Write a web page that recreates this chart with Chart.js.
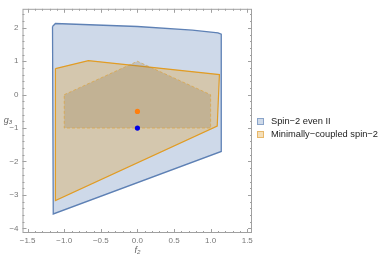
<!DOCTYPE html>
<html>
<head>
<meta charset="utf-8">
<script src="https://cdn.jsdelivr.net/npm/chart.js@4/dist/chart.umd.min.js"></script>
<style>
  body { margin: 0; background: #fff; font-family: "Liberation Sans", Arial, sans-serif; }
  #wrap { position: relative; width: 382px; height: 258px; }
  #legend { position: absolute; left: 257px; top: 115px; font-size: 9.3px; color: #222; }
  #legend div { height: 13px; line-height: 13px; white-space: nowrap; }
  #legend span.sw { display: inline-block; width: 5px; height: 5px; margin-right: 7px; vertical-align: -0.5px; }
</style>
</head>
<body>
<div id="wrap">
  <canvas id="plot"></canvas>
  <div id="legend">
    <div><span class="sw" style="background:#cfdae9;border:1px solid #8aa4c9"></span>Spin−2 even II</div>
    <div><span class="sw" style="background:#f5dfb8;border:1px solid #e8b86a"></span>Minimally−coupled spin−2</div>
  </div>
</div>
<script>
// region vertices (f2, g3)
const evenF2 = [-1.16, -1.12, 0.0, 0.75, 1.1, 1.145, 1.145, -1.15, -1.16];
const evenG3 = [2.04, 2.13, 2.04, 1.93, 1.85, 1.81, -1.70, -3.57, 2.04];

const minF2 = [-1.12, -0.67, 1.12, 1.09, -1.12, -1.12];
const minG3 = [0.78, 1.02, 0.60, -0.94, -3.17, 0.78];

const innerF2 = [-1.0, 0.0, 1.0, 1.0, -1.0, -1.0];
const innerG3 = [0.0, 1.0, 0.0, -1.0, -1.0, 0.0];

const minPoint = [0, -0.5];
const evenPoint = [0, -1];

const xTicks = [-1.5, -1.0, -0.5, 0.0, 0.5, 1.0, 1.5];
const yTicks = [-4, -3, -2, -1, 0, 1, 2];

const pts = (xs, ys) => xs.map((x, i) => ({x: x, y: ys[i]}));
const fmt = v => (v < 0 ? '−' : '') + Math.abs(v);
const fmtX = v => (v < 0 ? '−' : '') + Math.abs(v).toFixed(1);

const frame = {
  id: 'frame',
  afterDraw(chart) {
    const {ctx, chartArea: a, scales: {x, y}} = chart;
    ctx.save();
    ctx.strokeStyle = '#a0a0a0';
    ctx.lineWidth = 1;
    ctx.strokeRect(a.left + 0.5, a.top + 0.5, a.right - a.left - 1, a.bottom - a.top - 1);
    ctx.beginPath();
    for (let i = -15; i <= 15; i++) {
      const v = i / 10;
      const p = Math.round(x.getPixelForValue(v)) + 0.5;
      const len = i % 5 === 0 ? 4 : 2;
      ctx.moveTo(p, a.bottom); ctx.lineTo(p, a.bottom - len);
      ctx.moveTo(p, a.top); ctx.lineTo(p, a.top + len);
    }
    for (let i = -20; i <= 12; i++) {
      const v = i / 5;
      const p = Math.round(y.getPixelForValue(v)) + 0.5;
      const len = i % 5 === 0 ? 4 : 2;
      ctx.moveTo(a.left, p); ctx.lineTo(a.left + len, p);
      ctx.moveTo(a.right, p); ctx.lineTo(a.right - len, p);
    }
    ctx.stroke();
    ctx.fillStyle = '#666';
    ctx.font = 'italic 9px "Liberation Sans", Arial, sans-serif';
    ctx.textAlign = 'center';
    ctx.textBaseline = 'middle';
    ctx.fillText('f₂', x.getPixelForValue(0), 250);
    ctx.fillText('g₃', 8, (a.top + a.bottom) / 2);
    ctx.restore();
  }
};

new Chart(document.getElementById('plot'), {
  type: 'scatter',
  data: {
    datasets: [
      {
        label: 'Spin-2 even II',
        data: pts(evenF2, evenG3),
        showLine: true, tension: 0, fill: 'shape',
        borderColor: '#5e81b5', borderWidth: 1.3,
        backgroundColor: 'rgba(94,129,181,0.3)',
        pointRadius: 0, order: 4
      },
      {
        label: 'Minimally-coupled spin-2',
        data: pts(minF2, minG3),
        showLine: true, tension: 0, fill: 'shape',
        borderColor: '#e19c24', borderWidth: 1.2,
        backgroundColor: 'rgba(225,156,36,0.3)',
        pointRadius: 0, order: 3
      },
      {
        label: 'inner',
        data: pts(innerF2, innerG3),
        showLine: true, tension: 0, fill: 'shape',
        borderColor: 'rgba(225,156,36,0.55)', borderWidth: 1, borderDash: [3, 2],
        backgroundColor: 'rgba(140,115,70,0.25)',
        pointRadius: 0, order: 2
      },
      {
        label: 'min point',
        data: [{x: minPoint[0], y: minPoint[1]}],
        pointRadius: 2.6, pointBackgroundColor: '#ff7f0e', pointBorderWidth: 0, order: 1
      },
      {
        label: 'even point',
        data: [{x: evenPoint[0], y: evenPoint[1]}],
        pointRadius: 2.6, pointBackgroundColor: '#0000e6', pointBorderWidth: 0, order: 0
      }
    ]
  },
  options: {
    responsive: true,
    maintainAspectRatio: false,
    animation: false,
    layout: { padding: { top: 3, right: 130, left: 0, bottom: 0 } },
    plugins: { legend: { display: false }, tooltip: { enabled: false } },
    scales: {
      x: {
        type: 'linear', min: -1.57, max: 1.565,
        afterBuildTicks: s => { s.ticks = xTicks.map(v => ({value: v})); },
        afterFit: s => { s.height = 25; },
        grid: { display: false, drawTicks: false },
        border: { display: false },
        ticks: { padding: 3, autoSkip: false, maxRotation: 0, color: '#777',
                 font: { size: 8, family: '"Liberation Sans", Arial, sans-serif' }, callback: fmtX }
      },
      y: {
        type: 'linear', min: -4.14, max: 2.57,
        afterBuildTicks: s => { s.ticks = yTicks.map(v => ({value: v})); },
        afterFit: s => { s.width = 22.5; },
        grid: { display: false, drawTicks: false },
        border: { display: false },
        ticks: { padding: 4, autoSkip: false, color: '#777',
                 font: { size: 8, family: '"Liberation Sans", Arial, sans-serif' }, callback: fmt }
      }
    }
  },
  plugins: [frame]
});
</script>
</body>
</html>
